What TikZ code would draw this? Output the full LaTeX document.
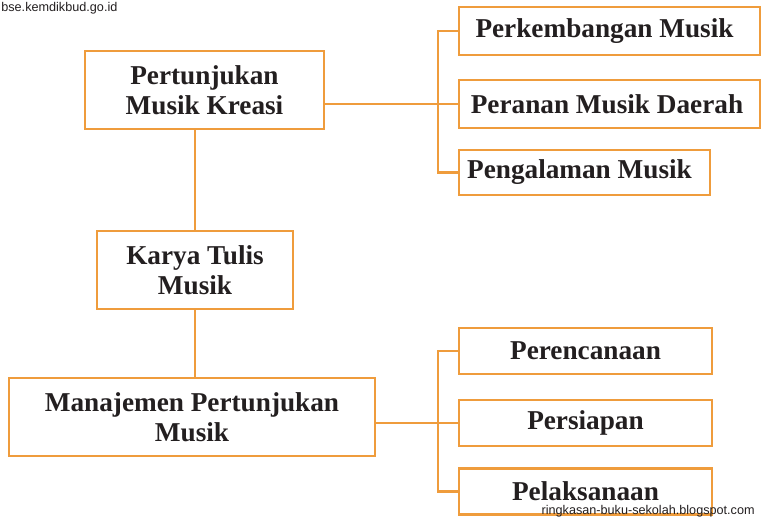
\documentclass[tikz,border=0pt]{standalone}
\usepackage{fontspec}
\setmainfont{Liberation Serif}
\newfontfamily\situsfont{Liberation Sans}
\definecolor{garis}{HTML}{EF9C3C}
\definecolor{tinta}{HTML}{231F20}
\tikzset{
	kotak/.style={draw=garis, line width=1.4pt, fill=white, text=tinta, align=center,
		font=\fontsize{15.5}{17}\selectfont\bfseries, inner sep=0pt},
	hubung/.style={draw=garis, line width=1.4pt},
	situs/.style={text=tinta, font=\situsfont\fontsize{7.2}{7.2}\selectfont, inner sep=0pt}
}
\begin{document}
\begin{tikzpicture}[x=0.02cm, y=-0.02cm]
\useasboundingbox (0,0) rectangle (768,519);
% kotak kiri
	\node[kotak, minimum width=4.78cm, minimum height=1.56cm] (kreasi) at (204.5,90) {Pertunjukan\\Musik Kreasi};
	\node[kotak, minimum width=3.92cm, minimum height=1.56cm] (karya) at (195,270) {Karya Tulis\\Musik};
	\node[kotak, minimum width=7.32cm, minimum height=1.56cm] (manajemen) at (192,417) {Manajemen Pertunjukan\\Musik};
% kotak kanan atas
	\node[kotak, minimum width=6.02cm, minimum height=0.96cm] (perkembangan) at (609.5,31) {Perkembangan Musik\hspace*{0.2cm}};
	\node[kotak, minimum width=6.02cm, minimum height=0.96cm] (peranan) at (609.5,104) {Peranan Musik Daerah\hspace*{0.1cm}};
	\node[kotak, minimum width=5.02cm, minimum height=0.90cm] (pengalaman) at (584.5,172.5) {Pengalaman Musik\hspace*{0.2cm}};
% kotak kanan bawah
	\node[kotak, minimum width=5.06cm, minimum height=0.92cm] (perencanaan) at (585.5,351) {Perencanaan};
	\node[kotak, minimum width=5.06cm, minimum height=0.92cm] (persiapan) at (585.5,423) {Persiapan};
	\node[kotak, minimum width=5.06cm, minimum height=0.92cm] (pelaksanaan) at (585.5,491.5) {Pelaksanaan};
	\coordinate (cabangA) at (438,104);
	\coordinate (cabangB) at (438,423);
% garis
	\draw[hubung] (karya.north) -- (karya.north |- kreasi.south);
	\draw[hubung] (karya.south) -- (karya.south |- manajemen.north);
	\draw[hubung] (kreasi.east |- peranan) -- (peranan.west);
	\draw[hubung] (perkembangan.west) -| (cabangA) |- (pengalaman.west);
	\draw[hubung] (manajemen.east |- persiapan) -- (persiapan.west);
	\draw[hubung] (perencanaan.west) -| (cabangB) |- (pelaksanaan.west);
% alamat
	\node[situs, anchor=west] (situsA) at (1,8) {bse.kemdikbud.go.id};
	\node[situs, anchor=east] (situsB) at (755,511) {ringkasan-buku-sekolah.blogspot.com};
\end{tikzpicture}
\end{document}
